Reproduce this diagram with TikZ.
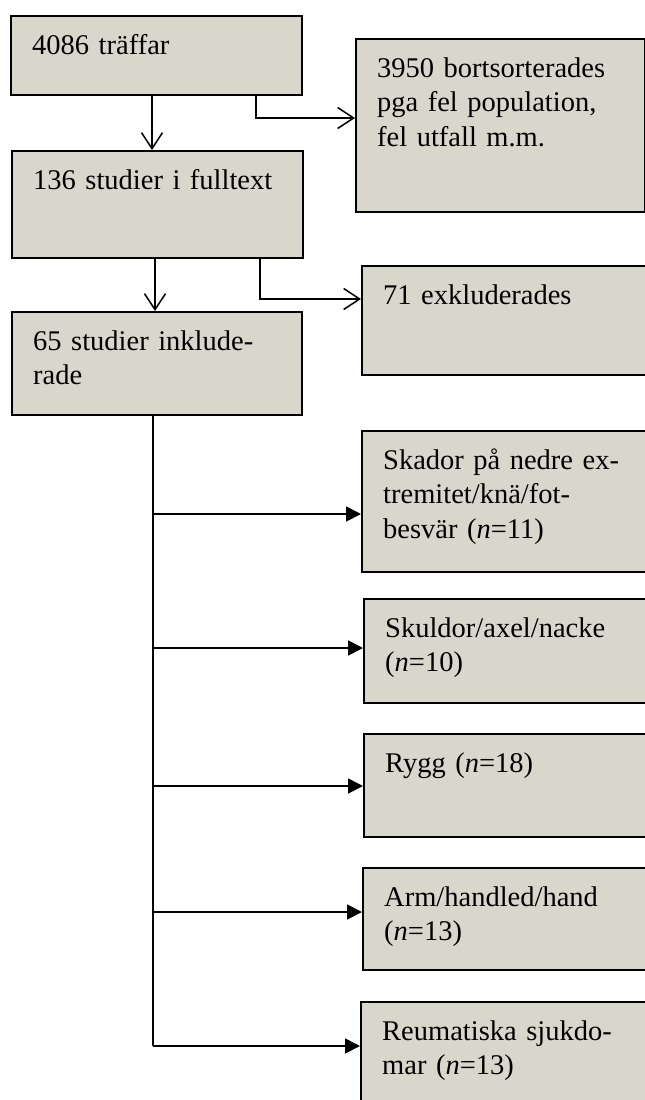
\documentclass[tikz,border=0pt]{standalone}
\usepackage{fontspec}
\setmainfont{Liberation Serif}
\usetikzlibrary{arrows.meta,calc}
\definecolor{boxfill}{RGB}{217,215,203}
\tikzset{
  bx/.style={draw, line width=2.4pt, fill=boxfill, anchor=north west, inner sep=0pt},
  tx/.style={anchor=base west, inner sep=0pt, align=left, text width=#1,
             font=\fontsize{28.5}{34.5}\selectfont},
  tx/.default=280pt,
  openarrow/.style={line width=1.5pt, -{Straight Barb[length=16pt,width=21pt,line width=1.5pt]}},
  fillarrow/.style={line width=1.8pt, -{Triangle[length=15pt,width=15pt]}},
  plain/.style={line width=1.8pt}
}
\begin{document}
\begin{tikzpicture}[x=1pt,y=-1pt]
\clip (0,0) rectangle (645,1100);
\fill[white] (0,0) rectangle (645,1100);
% boxes
\node[bx, minimum width=291pt, minimum height=79pt] (b1) at (10,15) {};
\node[bx, minimum width=289pt, minimum height=173pt] (b2) at (355,38) {};
\node[bx, minimum width=291pt, minimum height=107pt] (b3) at (11,150) {};
\node[bx, minimum width=300pt, minimum height=109pt] (b4) at (361,265) {};
\node[bx, minimum width=290pt, minimum height=103pt] (b5) at (11,311) {};
\node[bx, minimum width=300pt, minimum height=141pt] (s1) at (361,430) {};
\node[bx, minimum width=300pt, minimum height=104pt] (s2) at (363,598) {};
\node[bx, minimum width=300pt, minimum height=103pt] (s3) at (363,733) {};
\node[bx, minimum width=300pt, minimum height=102pt] (s4) at (362,867) {};
\node[bx, minimum width=300pt, minimum height=120pt] (s5) at (360,1001) {};
% texts
\node[tx] (t1) at ($(b1.north west)+(22,39)$) {4086 träffar};
\node[tx] (t2) at ($(b2.north west)+(22,39)$) {3950 bortsorterades\\pga fel population,\\fel utfall m.m.};
\node[tx] (t3) at ($(b3.north west)+(22,39)$) {136 studier i fulltext};
\node[tx] (t4) at ($(b4.north west)+(22,39)$) {71 exkluderades};
\node[tx] (t5) at ($(b5.north west)+(22,39)$) {65 studier inklude-\\rade};
\node[tx] (u1) at ($(s1.north west)+(22,39)$) {Skador på nedre ex-\\tremitet/knä/fot-\\besvär (\textit{n}=11)};
\node[tx] (u2) at ($(s2.north west)+(22,39)$) {Skuldor/axel/nacke\\(\textit{n}=10)};
\node[tx] (u3) at ($(s3.north west)+(22,39)$) {Rygg (\textit{n}=18)};
\node[tx] (u4) at ($(s4.north west)+(22,39)$) {Arm/handled/hand\\(\textit{n}=13)};
\node[tx] (u5) at ($(s5.north west)+(22,39)$) {Reumatiska sjukdo-\\mar (\textit{n}=13)};
% helper levels
\coordinate (y1) at (0,118);
\coordinate (y2) at (0,299);
\coordinate (r1) at (0,514);
\coordinate (r2) at (0,648);
\coordinate (r3) at (0,786);
\coordinate (r4) at (0,912);
\coordinate (r5) at (0,1046);
% connectors (upper)
\coordinate (c1) at ($(b1.south west)+(142,0)$);
\coordinate (c2) at ($(b1.south west)+(246,0)$);
\coordinate (c3) at ($(b3.south west)+(144,0)$);
\coordinate (c4) at ($(b3.south west)+(249,0)$);
\draw[openarrow] (c1) -- (c1 |- b3.north);
\draw[openarrow] (c2) -- (c2 |- y1) -- (b2.west |- y1);
\draw[openarrow] (c3) -- (c3 |- b5.north);
\draw[openarrow] (c4) -- (c4 |- y2) -- (b4.west |- y2);
% lower tree
\coordinate (trunk) at ($(b5.south west)+(142,0)$);
\coordinate (tend) at (trunk |- r5);
\draw[plain] (trunk) -- (tend);
\draw[fillarrow] (trunk |- r1) -- (s1.west |- r1);
\draw[fillarrow] (trunk |- r2) -- (s2.west |- r2);
\draw[fillarrow] (trunk |- r3) -- (s3.west |- r3);
\draw[fillarrow] (trunk |- r4) -- (s4.west |- r4);
\draw[fillarrow] (tend) -- (s5.west |- tend);
\end{tikzpicture}
\end{document}
